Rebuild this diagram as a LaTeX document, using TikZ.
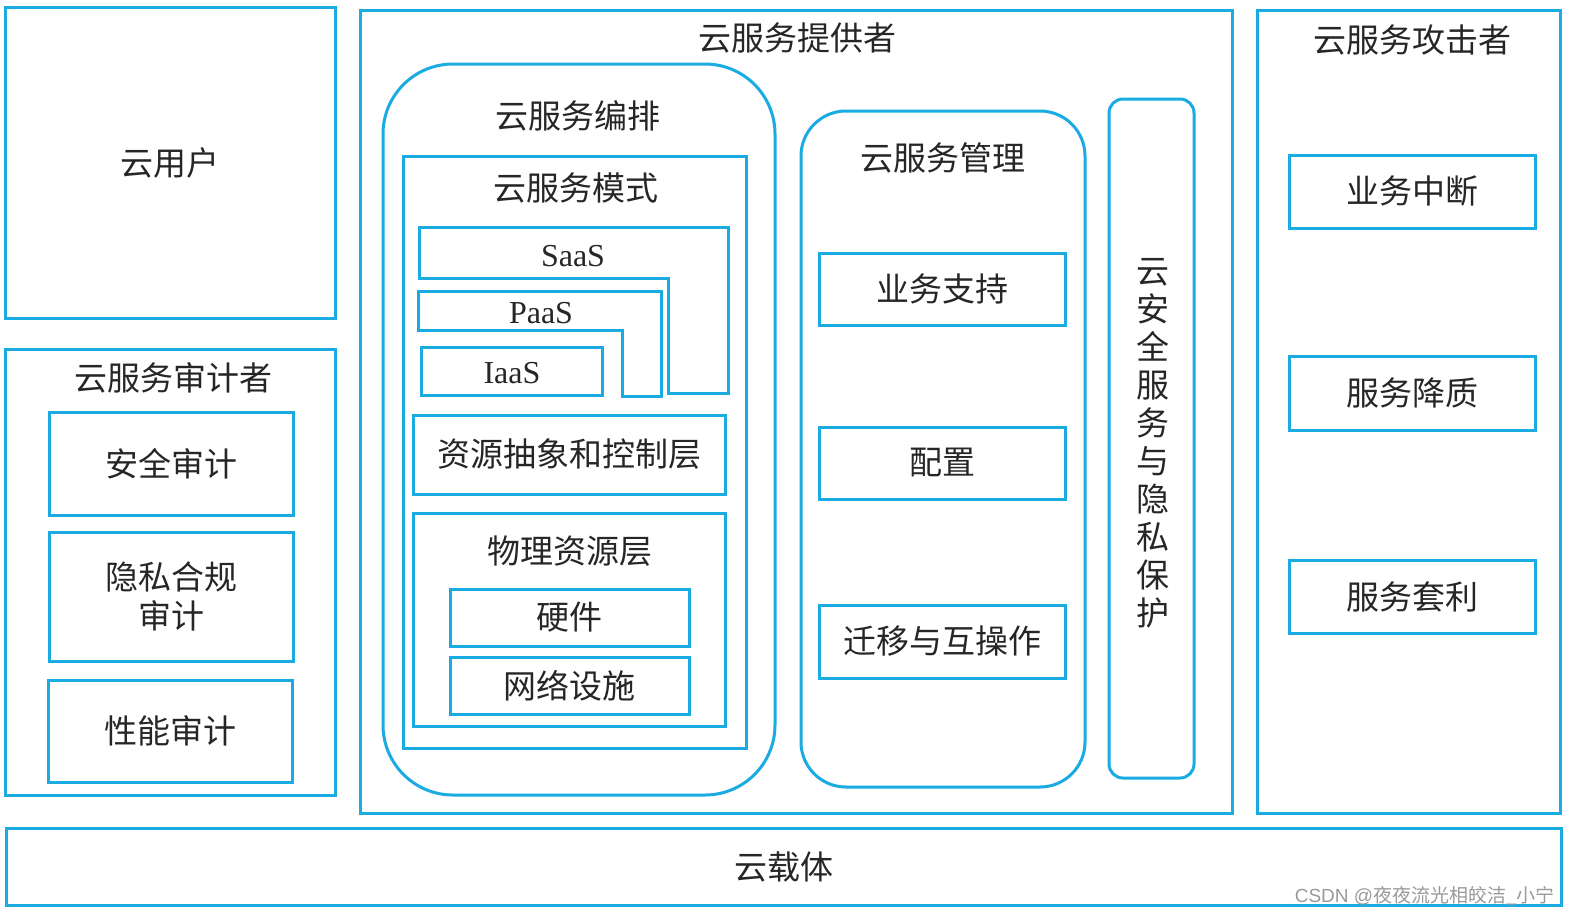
\documentclass[tikz,border=0pt]{standalone}
\usepackage{fontspec}
\setmainfont{Liberation Serif}
\newfontfamily\cjk{Noto Sans CJK SC}
\newfontfamily\wm{Liberation Sans}
\definecolor{lb}{HTML}{1AABE2}
\definecolor{tx}{HTML}{262626}
\tikzset{
  bx/.style={draw=lb, line width=3pt, inner sep=0pt, text=tx, font=\cjk\fontsize{33}{39}\selectfont, align=center},
  rb/.style={bx, rounded corners=#1},
  lbl/.style={text=tx, font=\cjk\fontsize{33}{39}\selectfont, inner sep=0pt, align=center},
  lat/.style={text=tx, font=\fontsize{32}{38}\selectfont, inner sep=0pt},
}
\newcommand{\mybox}[7][bx]{%
  \node[#1, minimum width={(#5-#3)*1pt}, minimum height={(#6-#4)*1pt}] (#2) at ({(#3+#5)/2},{(#4+#6)/2}) {#7};}
\begin{document}
\begin{tikzpicture}[x=1pt,y=-1pt]
\useasboundingbox (0,0) rectangle (1573,919);
% left column
\mybox{user}{5}{7}{335}{318}{云用户}
\mybox{aud}{5}{349}{335}{795}{}
\node[lbl] (audt) at (173,378) {云服务审计者};
\mybox{sa}{49}{412}{293}{515}{安全审计}
\mybox{pa}{49}{532}{293}{661}{隐私合规\\审计}
\mybox{pf}{48}{680}{292}{782}{性能审计}
% provider
\mybox{prov}{360}{10}{1232}{813}{}
\node[lbl] (provt) at (797,38) {云服务提供者};
\mybox[rb=70pt]{orch}{383}{64}{775}{795}{}
\node[lbl] (orcht) at (578,116) {云服务编排};
\mybox{mode}{403}{156}{746}{748}{}
\node[lbl] (modet) at (576,188) {云服务模式};
\draw[draw=lb, line width=3pt] (419,227) coordinate (s1) -- (728,227) -- (728,393) -- (668,393) -- (668,278) -- (419,278) -- cycle;
\node[lat] (saas) at (573,256) {SaaS};
\draw[draw=lb, line width=3pt] (418,291) coordinate (p1) -- (661,291) -- (661,396) -- (622,396) -- (622,330) -- (418,330) -- cycle;
\node[lat] (paas) at (541,313) {PaaS};
\mybox{iaas}{421}{347}{602}{395}{}
\node[lat] (iaast) at (512,373) {IaaS};
\mybox{rac}{413}{415}{725}{494}{资源抽象和控制层}
\mybox{phy}{413}{513}{725}{726}{}
\node[lbl] (phyt) at (570,551) {物理资源层};
\mybox{hw}{450}{589}{689}{646}{硬件}
\mybox{net}{450}{657}{689}{714}{网络设施}
\mybox[rb=45pt]{mgmt}{801}{111}{1085}{787}{}
\node[lbl] (mgmtt) at (943,158) {云服务管理};
\mybox{bs}{819}{253}{1065}{325}{业务支持}
\mybox{cfg}{819}{427}{1065}{499}{配置}
\mybox{mig}{819}{605}{1065}{678}{迁移与互操作}
\mybox[rb=14pt]{sec}{1109}{99}{1194}{778}{}
\node[lbl, font=\cjk\fontsize{33}{38}\selectfont] (sect) at (1153,443) {云\\安\\全\\服\\务\\与\\隐\\私\\保\\护};
% attacker
\mybox{att}{1257}{10}{1560}{813}{}
\node[lbl] (attt) at (1412,40) {云服务攻击者};
\mybox{bi}{1289}{155}{1535}{228}{业务中断}
\mybox{sd}{1289}{356}{1535}{430}{服务降质}
\mybox{sr}{1289}{560}{1535}{633}{服务套利}
% carrier
\mybox{car}{6}{828}{1561}{905}{云载体}
\node[text=gray!80, font=\cjk\fontsize{19}{22}\selectfont, anchor=east, inner sep=0pt] (wm) at (1555,896) {{\wm CSDN @}夜夜流光相皎洁\_小宁};
\end{tikzpicture}
\end{document}
